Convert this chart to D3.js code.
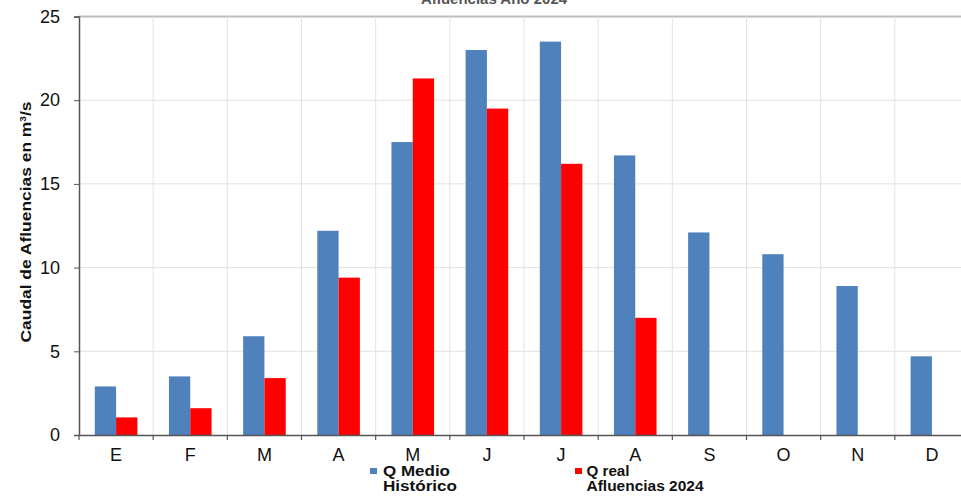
<!DOCTYPE html>
<html><head><meta charset="utf-8">
<script src="https://cdn.jsdelivr.net/npm/d3@7"></script>
<style>body{margin:0;background:#fff}svg{display:block}</style>
</head><body>
<script>
const months = ["E","F","M","A","M","J","J","A","S","O","N","D"];
const qMedio = [2.9,3.5,5.9,12.2,17.5,23.0,23.5,16.7,12.1,10.8,8.9,4.7];
const qReal = [1.05,1.6,3.4,9.4,21.3,19.5,16.2,7.0,null,null,null,null];
const yTicks = [0,5,10,15,20,25];
const legendLines = [["Q Medio","Histórico"],["Q real","Afluencias 2024"]];
const colors = ["#4F81BD","#FF0000"];

(function(){
const W=961,H=497;
const F="Liberation Sans, Arial, sans-serif";
const svg=d3.select("body").append("svg").attr("width",W).attr("height",H);
const pl=79,pr=969,pt=16.5,pb=435;
const idx=d3.range(months.length);
const x=d3.scaleBand().domain(idx).range([pl,pr]);
const y=d3.scaleLinear().domain([0,25]).range([pb,pt]);
const sub=d3.scaleBand().domain([0,1]).range([0,42.6]);

// title (mostly cut off at top edge, as in the reference)
svg.append("text").attr("x",494).attr("y",4).attr("text-anchor","middle")
  .attr("font-family",F).attr("font-weight","bold").attr("font-size",15)
  .attr("fill","#555").text("Afluencias Año 2024");

// grid
svg.append("g").selectAll("line").data(yTicks.slice(1)).join("line")
  .attr("x1",pl).attr("x2",pr).attr("y1",d=>y(d)).attr("y2",d=>y(d))
  .attr("stroke",d=>d===25?"#bbb":"#e2e2e2").attr("stroke-width",d=>d===25?2:1);
svg.append("g").selectAll("line").data(idx.slice(1)).join("line")
  .attr("x1",d=>x(d)).attr("x2",d=>x(d)).attr("y1",pt).attr("y2",pb)
  .attr("stroke","#e2e2e2");

// bars
const g=svg.append("g");
idx.forEach(i=>{
  const cx=x(i)+x.bandwidth()/2-21.3;
  [qMedio[i],qReal[i]].forEach((v,s)=>{
    if(v==null) return;
    g.append("rect").attr("x",cx+sub(s)).attr("width",sub.bandwidth())
     .attr("y",y(v)).attr("height",pb-y(v)).attr("fill",colors[s]);
  });
});

// axes
const xa=svg.append("g").attr("transform",`translate(0,${pb})`)
  .call(d3.axisBottom(x).tickFormat(i=>months[i]).tickSize(0).tickPadding(13.5));
xa.select(".domain").attr("stroke","#555").attr("stroke-width",1.5);
xa.selectAll("text").attr("font-family",F).attr("font-size",18).attr("fill","#111");
svg.append("g").selectAll("line").data(d3.range(months.length+1)).join("line")
  .attr("x1",d=>pl+d*x.step()).attr("x2",d=>pl+d*x.step())
  .attr("y1",pb).attr("y2",pb+5).attr("stroke","#555").attr("stroke-width",1.2);

const ya=svg.append("g").attr("transform",`translate(${pl},0)`)
  .call(d3.axisLeft(y).tickValues(yTicks).tickSize(5).tickPadding(14));
ya.select(".domain").attr("stroke","#555").attr("stroke-width",1.5);
ya.selectAll(".tick line").attr("stroke","#555");
ya.selectAll("text").attr("font-family",F).attr("font-size",18).attr("fill","#111");

svg.append("text").attr("transform","translate(31,222) rotate(-90)").attr("text-anchor","middle")
  .attr("font-family",F).attr("font-weight","bold").attr("font-size",15.5)
  .attr("fill","#111").attr("textLength",241).attr("lengthAdjust","spacingAndGlyphs")
  .html('Caudal de Afluencias en m<tspan baseline-shift="super" font-size="9">3</tspan>/s');

// legend
const lg=[{sx:370,tx:383,w:[67,74]},{sx:575,tx:586.5,w:[43,117]}];
lg.forEach((l,s)=>{
  svg.append("rect").attr("x",l.sx).attr("y",468).attr("width",7).attr("height",6).attr("fill",colors[s]);
  legendLines[s].forEach((t,k)=>{
    svg.append("text").attr("x",l.tx).attr("y",476+k*14.5)
      .attr("font-family",F).attr("font-weight","bold").attr("font-size",14.5)
      .attr("textLength",l.w[k]).attr("lengthAdjust","spacingAndGlyphs")
      .attr("fill","#111").text(t);
  });
});
})();
</script>
</body></html>
